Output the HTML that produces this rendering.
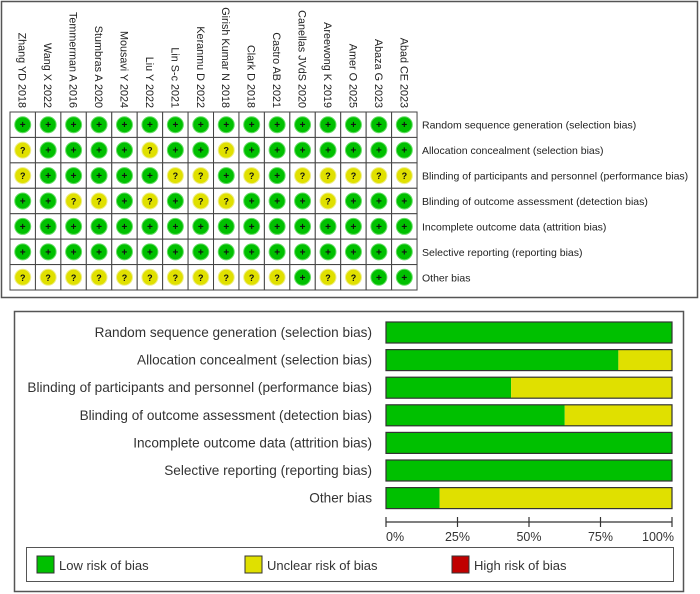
<!DOCTYPE html>
<html><head><meta charset="utf-8"><style>
html,body{margin:0;padding:0;background:#fff;width:700px;height:594px;overflow:hidden}
svg{display:block;font-family:"Liberation Sans",Arial,sans-serif}
</style></head><body>
<svg id="chart" width="700" height="594" viewBox="0 0 700 594" xmlns="http://www.w3.org/2000/svg">
<rect x="1.5" y="1.5" width="696" height="296" fill="#fff" stroke="#555" stroke-width="1.5"/>
<rect x="14.5" y="311.5" width="669" height="280" fill="#fff" stroke="#555" stroke-width="1.5"/>
<g id="grid"></g>
<g id="bars"></g>
<g>
<rect x="26.5" y="547.5" width="647" height="34" fill="#fff" stroke="#555" stroke-width="1"/>
<rect x="37" y="556" width="17" height="17" fill="#00c000" stroke="#333"/>
<text x="59" y="570" font-size="13" fill="#333">Low risk of bias</text>
<rect x="245" y="556" width="17" height="17" fill="#e0e000" stroke="#333"/>
<text x="267" y="570" font-size="13" fill="#333">Unclear risk of bias</text>
<rect x="452" y="556" width="17" height="17" fill="#c00000" stroke="#333"/>
<text x="474" y="570" font-size="13" fill="#333">High risk of bias</text>
</g>
</svg>
<script>
const studies=["Zhang YD 2018","Wang X 2022","Temmerman A 2016","Stumbras A 2020","Mousavi Y 2024","Liu Y 2022","Lin S-c 2021","Keranmu D 2022","Girish Kumar N 2018","Clark D 2018","Castro AB 2021","Canellas JVdS 2020","Areewong K 2019","Amer O 2025","Abaza G 2023","Abad CE 2023"];
const domains=["Random sequence generation (selection bias)","Allocation concealment (selection bias)","Blinding of participants and personnel (performance bias)","Blinding of outcome assessment (detection bias)","Incomplete outcome data (attrition bias)","Selective reporting (reporting bias)","Other bias"];
const judgRow0="++++++++++++++++";
const judgRow1="?++++?++?+++++++";
const judgRow2="?+++++??+?+?????";
const judgRow3="++??+?+??+++?+++";
const judgRow4="++++++++++++++++";
const judgRow5="++++++++++++++++";
const judgRow6="???????????+??++";
const judgments=[judgRow0,judgRow1,judgRow2,judgRow3,judgRow4,judgRow5,judgRow6];
const lowPct=[100,81.25,43.75,62.5,100,100,18.75];
const unclearPct=[0,18.75,56.25,37.5,0,0,81.25];
const highPct=[0,0,0,0,0,0,0];
const tickLabels=["0%","25%","50%","75%","100%"];
const tickValues=[0,25,50,75,100];

const NS="http://www.w3.org/2000/svg";
function mk(tag,attrs,parent,txt){const e=document.createElementNS(NS,tag);for(const k in attrs)e.setAttribute(k,attrs[k]);if(txt!==undefined)e.textContent=txt;parent.appendChild(e);return e;}
const grid=document.getElementById('grid');
const gx0=10,gy0=112,cw=25.44,rh=25.43;
const colX=i=>gx0+cw*(i+0.5), rowY=j=>gy0+rh*(j+0.5);
studies.forEach((s,i)=>{
  const t=mk('text',{x:0,y:0,transform:`translate(${colX(i)-4},108) rotate(90)`,'text-anchor':'end','font-size':'10.8',fill:'#222'},grid,s);
  
  
});
domains.forEach((d,j)=>{
  const t=mk('text',{x:422,y:rowY(j)+4,'font-size':'10.5',fill:'#222'},grid,d);
  
  
  for(let i=0;i<studies.length;i++){
    const r=mk('rect',{x:gx0+cw*i,y:gy0+rh*j,width:cw,height:rh,fill:'#fff',stroke:'#444','stroke-width':1},grid);
    
    
    const v=judgments[j][i];
    const c=mk('circle',{cx:colX(i),cy:rowY(j),r:8,fill:v==='+'?'#00c000':(v==='?'?'#e0e000':'#c00000'),stroke:v==='+'?'#6d6':'#ee8','stroke-width':1},grid);
    
    
    const g=mk('text',{x:colX(i),y:rowY(j)+3.5,'text-anchor':'middle','font-size':v==='+'?'10':'9','font-weight':'bold',fill:'#111'},grid,v);
    
    
  }
});
const bars=document.getElementById('bars');
const bx0=386,bx1=672,by0=322,bp=27.6,bh=21;
const xs=v=>bx0+(bx1-bx0)*v/100;
domains.forEach((d,j)=>{
  const y=by0+bp*j;
  const t=mk('text',{x:372,y:y+15,'text-anchor':'end','font-size':'13.6',fill:'#333'},bars,d);
  
  
  const a=mk('rect',{x:xs(0),y:y,width:xs(lowPct[j])-xs(0),height:bh,fill:'#00c000'},bars);
  
  
  const b=mk('rect',{x:xs(lowPct[j]),y:y,width:xs(lowPct[j]+unclearPct[j])-xs(lowPct[j]),height:bh,fill:'#e0e000'},bars);
  
  
  const c=mk('rect',{x:xs(lowPct[j]+unclearPct[j]),y:y,width:xs(lowPct[j]+unclearPct[j]+highPct[j])-xs(lowPct[j]+unclearPct[j]),height:bh,fill:'#c00000'},bars);
  
  
  const o=mk('rect',{x:xs(0),y:y,width:xs(100)-xs(0),height:bh,fill:'none',stroke:'#333','stroke-width':1.2},bars);
  
  
});
const ax=mk('line',{x1:xs(0),x2:xs(100),y1:522,y2:522,stroke:'#333','stroke-width':1.2},bars);


tickValues.forEach((v,k)=>{
  const l=mk('line',{x1:xs(v),x2:xs(v),y1:517,y2:527,stroke:'#333','stroke-width':1.2},bars);
  
  
  const anchor=k===0?'start':(k===tickValues.length-1?'end':'middle');
  const t=mk('text',{x:xs(v)+(k===tickValues.length-1?2:0),y:541,'text-anchor':anchor,'font-size':'12.5',fill:'#333'},bars,tickLabels[k]);
  
  
});
</script>
</body></html>
